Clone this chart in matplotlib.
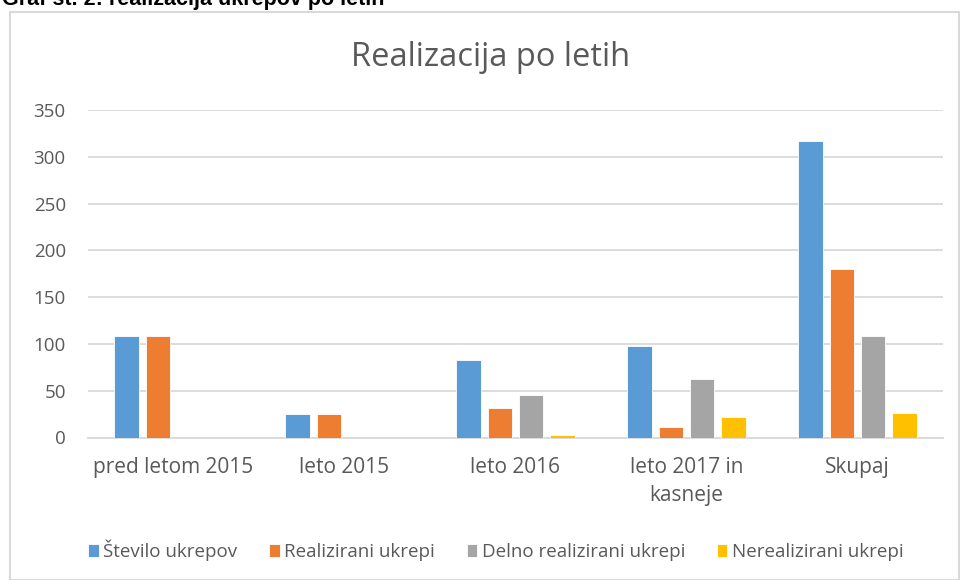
import matplotlib.pyplot as plt
import numpy as np
from matplotlib.patches import Rectangle

plt.rcParams['font.family'] = ['Open Sans', 'DejaVu Sans']

kategorije = ['pred letom 2015', 'leto 2015', 'leto 2016', 'leto 2017 in\nkasneje', 'Skupaj']
stevilo = [109, 25, 83, 98, 317]
realizirani = [109, 25, 32, 11, 180]
delno = [0, 0, 45, 63, 108]
nerealizirani = [0, 0, 3, 22, 26]

serije = ['Število ukrepov', 'Realizirani ukrepi', 'Delno realizirani ukrepi', 'Nerealizirani ukrepi']
barve = ['#5b9bd5', '#ed7d31', '#a5a5a5', '#ffc000']
tekst = '#595959'

fig = plt.figure(figsize=(9.6, 5.8), dpi=100)
ax = fig.add_axes([88/960, 1 - 437.5/580, 855/960, 327.5/580])

x = np.arange(len(kategorije))
korak = 0.182
sirina = 0.145
for i, (vals, ime, c) in enumerate(zip([stevilo, realizirani, delno, nerealizirani], serije, barve)):
    ax.bar(x + (i - 1.5) * korak, vals, sirina, color=c, edgecolor='white', linewidth=0.6,
           label=ime, zorder=3)

ax.set_xlim(-0.5, len(kategorije) - 0.5)
ax.set_ylim(0, 350)
ax.set_yticks(range(0, 351, 50))
ax.grid(axis='y', color='#d9d9d9', linewidth=1.3, zorder=0)
for s in ['top', 'right', 'left']:
    ax.spines[s].set_visible(False)
ax.spines['bottom'].set_color('#d9d9d9')
ax.spines['bottom'].set_linewidth(1.3)
ax.tick_params(length=0, colors=tekst, labelsize=13.5)
ax.tick_params(axis='y', pad=16)
ax.tick_params(axis='x', labelsize=15, pad=14)
ax.set_xticks(x)
ax.set_xticklabels(kategorije, linespacing=1.45)

fig.text(491/960, 1 - 58/580, 'Realizacija po letih', ha='center', va='center',
         fontsize=23.5, color=tekst)

leg = fig.legend(loc='center', bbox_to_anchor=(496/960, 1 - 550/580), ncol=4, frameon=False,
                 fontsize=13.5, handlelength=0.55, handleheight=0.7, handletextpad=0.25,
                 columnspacing=1.7, labelcolor=tekst)

fig.patches.append(Rectangle((10/960, 0), 949/960, 1 - 12/580, transform=fig.transFigure,
                             fill=False, edgecolor='#d9d9d9', linewidth=1.5))

fig.text(2/960, 1 - 5/580, 'Graf št. 2: realizacija ukrepov po letih', ha='left', va='baseline',
         fontsize=15.5, fontweight='bold', family='Liberation Sans')

fig.savefig('out.png', dpi=100)
